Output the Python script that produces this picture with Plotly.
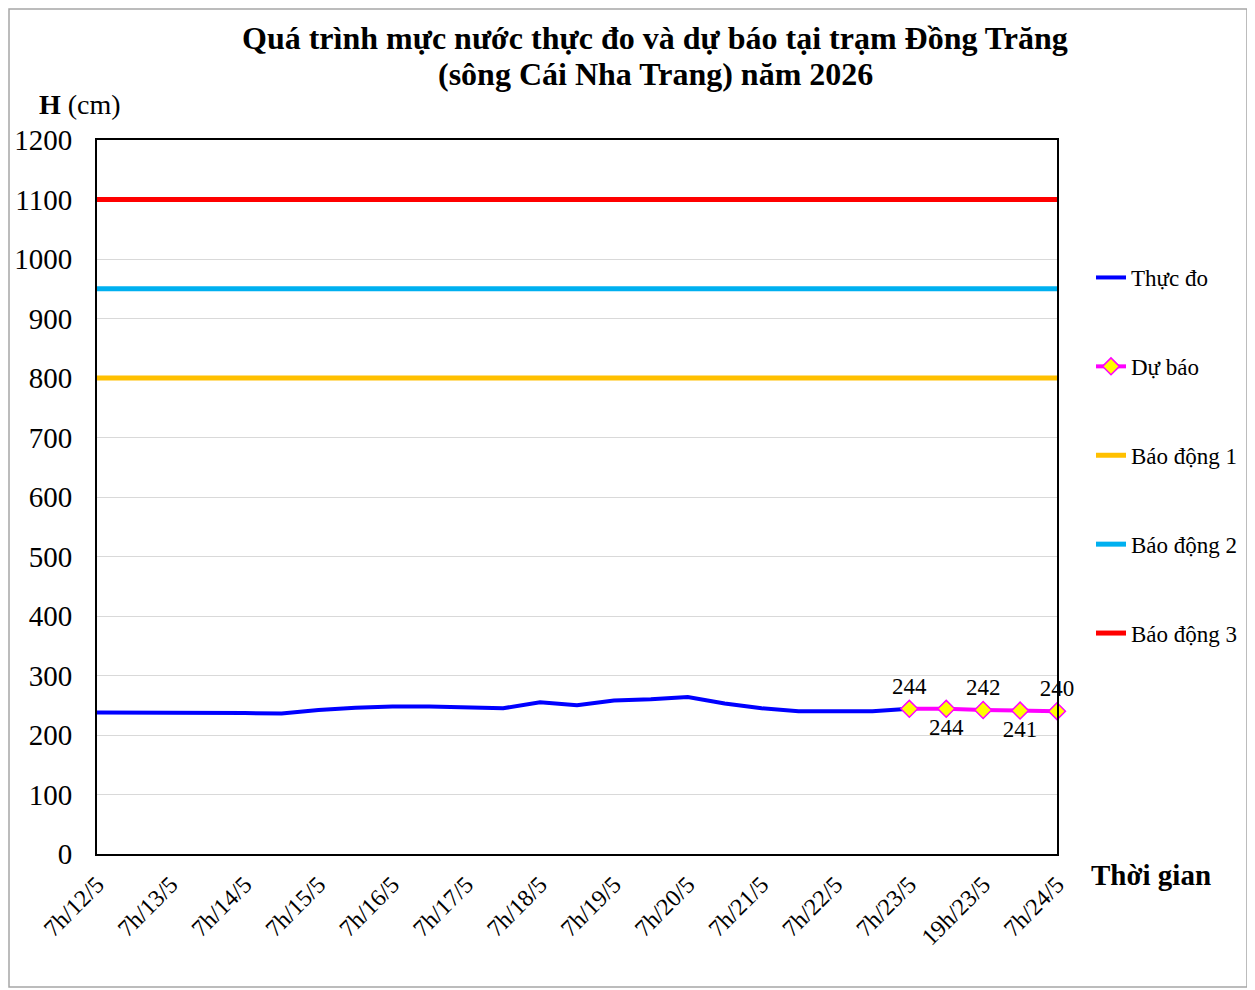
import plotly.graph_objects as go

# ---- data ----
times = ["7h/12/5", "19h/12/5", "7h/13/5", "19h/13/5", "7h/14/5", "19h/14/5",
         "7h/15/5", "19h/15/5", "7h/16/5", "19h/16/5", "7h/17/5", "19h/17/5",
         "7h/18/5", "19h/18/5", "7h/19/5", "19h/19/5", "7h/20/5", "19h/20/5",
         "7h/21/5", "19h/21/5", "7h/22/5", "19h/22/5", "7h/23/5",
         "13h/23/5", "19h/23/5", "1h/24/5", "7h/24/5"]
observed_times = times[:23]
observed = [238, 238, 238, 237, 237, 236, 242, 246, 248, 248, 246, 245,
            255, 250, 258, 260, 264, 253, 245, 240, 240, 240, 244]
forecast_times = times[22:]
forecast = [244, 244, 242, 241, 240]
alarm_names = ["Báo động 1", "Báo động 2", "Báo động 3"]
alarm_levels = [800, 950, 1100]
alarm_colors = ["#FFC000", "#00B0F0", "#FF0000"]
tick_labels = ["7h/12/5", "7h/13/5", "7h/14/5", "7h/15/5", "7h/16/5", "7h/17/5",
               "7h/18/5", "7h/19/5", "7h/20/5", "7h/21/5", "7h/22/5", "7h/23/5",
               "19h/23/5", "7h/24/5"]
y_ticks = list(range(0, 1201, 100))

FONT = "Liberation Serif, Times New Roman, serif"

# page coordinates helpers (body has 8px margin in the page)
PX0, PW, PY0, PH = 97, 960, 854, 714


def px(x):
    return (x - PX0) / PW


def py(y):
    return (PY0 - y) / PH


fig = go.Figure()

fig.add_trace(go.Scatter(
    x=observed_times, y=observed, mode="lines", name="Thực đo",
    line=dict(color="#0000FF", width=4), legendgroup="a"))

label_pos = ["top center", "bottom center", "top center", "bottom center", "top center"]
fig.add_trace(go.Scatter(
    x=forecast_times, y=forecast, mode="lines+markers+text", name="Dự báo",
    line=dict(color="#FF00FF", width=4),
    marker=dict(symbol="diamond", size=13, color="#FFFF00",
                line=dict(color="#FF00FF", width=1.5)),
    text=[str(v) for v in forecast], textposition=label_pos,
    textfont=dict(family=FONT, size=23, color="#000000"),
    legendgroup="b", cliponaxis=False))

for nm, lv, col, grp in zip(alarm_names, alarm_levels, alarm_colors, ["c", "d", "e"]):
    fig.add_trace(go.Scatter(
        x=times, y=[lv] * len(times), mode="lines", name=nm,
        line=dict(color=col, width=5), legendgroup=grp))

fig.update_layout(
    width=1255, height=990,
    margin=dict(l=89, r=206, t=132, b=144, autoexpand=False),
    paper_bgcolor="white", plot_bgcolor="white",
    font=dict(family=FONT, size=23, color="#000000"),
    showlegend=True,
    legend=dict(x=px(1091), y=py(256), xanchor="left", yanchor="top",
                tracegroupgap=56, font=dict(family=FONT, size=23),
                bgcolor="rgba(0,0,0,0)"),
    xaxis=dict(type="category", categoryorder="array", categoryarray=times,
               range=[0, len(times) - 1], tickmode="array",
               tickvals=tick_labels, ticktext=tick_labels, tickangle=-45,
               tickfont=dict(family=FONT, size=24), showgrid=False,
               showline=True, linecolor="#000000", linewidth=2, mirror=True,
               ticks="", zeroline=False, ticklabelstandoff=5, automargin=False),
    yaxis=dict(range=[0, 1200], tickmode="array", tickvals=y_ticks,
               tickfont=dict(family=FONT, size=29), showgrid=True,
               gridcolor="#D9D9D9", gridwidth=1,
               showline=True, linecolor="#000000", linewidth=2, mirror=True,
               ticks="", zeroline=False, ticklabelstandoff=17, automargin=False),
)

fig.add_annotation(
    xref="paper", yref="paper", x=px(655), y=py(38),
    text="<b>Quá trình mực nước thực đo và dự báo tại trạm Đồng Trăng</b>",
    showarrow=False, font=dict(family=FONT, size=32),
    xanchor="center", yanchor="middle")
fig.add_annotation(
    xref="paper", yref="paper", x=px(655), y=py(74),
    text="<b>(sông Cái Nha Trang) năm 2026</b>",
    showarrow=False, font=dict(family=FONT, size=32),
    xanchor="center", yanchor="middle")
fig.add_annotation(
    xref="paper", yref="paper", x=px(37), y=py(105),
    text="<b>H</b> (cm)", showarrow=False, font=dict(family=FONT, size=28),
    xanchor="left", yanchor="middle")
fig.add_annotation(
    xref="paper", yref="paper", x=px(1089), y=py(875),
    text="<b>Thời gian</b>", showarrow=False, font=dict(family=FONT, size=29),
    xanchor="left", yanchor="middle")

# outer chart border (kept inside the drawing surface)
fig.add_shape(type="rect", xref="paper", yref="paper",
              x0=px(9), x1=px(1247), y0=py(987), y1=py(9),
              line=dict(color="#A6A6A6", width=1.5), fillcolor="rgba(0,0,0,0)")

fig.write_html("out.html")
